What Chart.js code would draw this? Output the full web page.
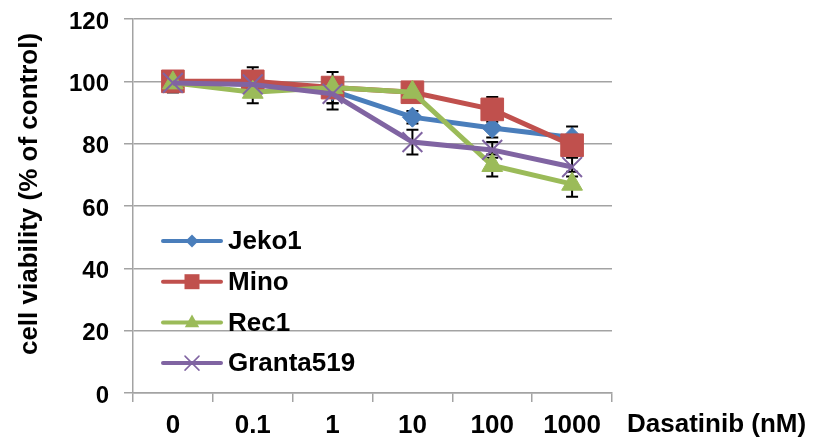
<!DOCTYPE html>
<html>
<head>
<meta charset="utf-8">
<script src="https://cdn.jsdelivr.net/npm/chart.js@4.4.0/dist/chart.umd.min.js"></script>
<style>
  html, body { margin: 0; padding: 0; background: #ffffff; }
  #wrap { width: 818px; height: 444px; }
</style>
</head>
<body>
<div id="wrap"><canvas id="c" width="818" height="444"></canvas></div>
<script>
// Dasatinib dose-response: cell viability (% of control) per cell line
const doses = ['0', '0.1', '1', '10', '100', '1000'];
const yTicks = [0, 20, 40, 60, 80, 100, 120];

const jeko1 = [100, 99, 97, 88.5, 85, 82];
const mino = [100, 100, 98, 96.5, 91, 79.5];
const rec1 = [99.5, 96.5, 98, 96.5, 73, 67];
const granta519 = [99.5, 99, 96, 80.5, 78, 72.5];

// standard deviations (error bars)
const jeko1Err = [3, 3, 4, 2, 3, 3.5];
const minoErr = [3, 4.5, 5, 2, 4, 3];
const rec1Err = [3, 3.5, 3, 2, 3.5, 4];
const granta519Err = [3, 3, 5, 4, 2.5, 3];

const FONT = '"Liberation Sans", Arial, sans-serif';
const GRID = '#a3a3a3';

// error bars drawn beneath the markers
const errorBars = {
  id: 'errorBars',
  beforeDatasetsDraw(chart) {
    const ctx = chart.ctx;
    const ys = chart.scales.y;
    ctx.save();
    ctx.strokeStyle = '#000000';
    ctx.lineWidth = 2;
    chart.data.datasets.forEach((ds, i) => {
      const meta = chart.getDatasetMeta(i);
      meta.data.forEach((pt, j) => {
        const v = ds.data[j], e = ds.errors[j];
        const x = pt.x;
        const yt = ys.getPixelForValue(v + e);
        const yb = ys.getPixelForValue(v - e);
        ctx.beginPath();
        ctx.moveTo(x, yt); ctx.lineTo(x, yb);
        ctx.moveTo(x - 6, yt); ctx.lineTo(x + 6, yt);
        ctx.moveTo(x - 6, yb); ctx.lineTo(x + 6, yb);
        ctx.stroke();
      });
    });
    ctx.restore();
  }
};

function drawMarker(ctx, style, x, y, s, color) {
  ctx.save();
  ctx.fillStyle = color;
  ctx.strokeStyle = color;
  ctx.beginPath();
  if (style === 'rectRot') {
    ctx.moveTo(x, y - s); ctx.lineTo(x + s, y); ctx.lineTo(x, y + s); ctx.lineTo(x - s, y);
    ctx.closePath(); ctx.fill();
  } else if (style === 'rect') {
    ctx.rect(x - s, y - s, 2 * s, 2 * s); ctx.fill();
  } else if (style === 'triangle') {
    ctx.moveTo(x, y - s); ctx.lineTo(x + s * 0.9, y + s * 0.6); ctx.lineTo(x - s * 0.9, y + s * 0.6);
    ctx.closePath(); ctx.fill();
  } else {
    ctx.lineWidth = 1.5;
    ctx.moveTo(x - s, y - s); ctx.lineTo(x + s, y + s);
    ctx.moveTo(x + s, y - s); ctx.lineTo(x - s, y + s);
    ctx.stroke();
  }
  ctx.restore();
}

// in-plot legend, axis titles
const annotations = {
  id: 'annotations',
  afterDraw(chart) {
    const ctx = chart.ctx;
    const legendTop = 241, legendStep = 40.7;
    chart.data.datasets.forEach((ds, i) => {
      const cy = legendTop + i * legendStep;
      ctx.save();
      ctx.strokeStyle = ds.borderColor;
      ctx.lineWidth = 4;
      ctx.lineCap = 'round';
      ctx.beginPath(); ctx.moveTo(163, cy); ctx.lineTo(221, cy); ctx.stroke();
      drawMarker(ctx, ds.pointStyle, 192, cy, ds.legendSize, ds.borderColor);
      ctx.fillStyle = '#000000';
      ctx.font = 'bold 26px ' + FONT;
      ctx.textBaseline = 'middle';
      ctx.textAlign = 'left';
      ctx.fillText(ds.label, 228, cy + 1);
      ctx.restore();
    });

    ctx.save();
    ctx.fillStyle = '#000000';
    ctx.font = 'bold 26px ' + FONT;
    ctx.textBaseline = 'middle';
    ctx.textAlign = 'left';
    ctx.fillText('Dasatinib (nM)', 627, 425);
    ctx.restore();

    ctx.save();
    ctx.fillStyle = '#000000';
    ctx.font = 'bold 26px ' + FONT;
    ctx.translate(37, 194);
    ctx.rotate(-Math.PI / 2);
    ctx.textAlign = 'center';
    ctx.textBaseline = 'alphabetic';
    ctx.fillText('cell viability (% of control)', 0, 0);
    ctx.restore();
  }
};

new Chart(document.getElementById('c'), {
  type: 'line',
  data: {
    labels: doses,
    datasets: [
      { label: 'Jeko1', data: jeko1, errors: jeko1Err, borderColor: '#4a7ebb', backgroundColor: '#4a7ebb',
        pointStyle: 'rectRot', pointRadius: 10, pointBorderWidth: 1, order: 4, legendSize: 6.5 },
      { label: 'Mino', data: mino, errors: minoErr, borderColor: '#c0504d', backgroundColor: '#c0504d',
        pointStyle: 'rect', pointRadius: 16, pointBorderWidth: 1, order: 3, legendSize: 7.5 },
      { label: 'Rec1', data: rec1, errors: rec1Err, borderColor: '#9bbb59', backgroundColor: '#9bbb59',
        pointStyle: 'triangle', pointRadius: 12, pointBorderWidth: 1, order: 2, legendSize: 8 },
      { label: 'Granta519', data: granta519, errors: granta519Err, borderColor: '#8064a2', backgroundColor: '#8064a2',
        pointStyle: 'crossRot', pointRadius: 14, pointBorderWidth: 2, order: 1, legendSize: 7 }
    ]
  },
  options: {
    responsive: false,
    animation: false,
    devicePixelRatio: 1,
    layout: { padding: { top: 19, right: 206, bottom: 0, left: 0 } },
    elements: { line: { borderWidth: 5, tension: 0 } },
    plugins: { legend: { display: false }, tooltip: { enabled: false } },
    scales: {
      x: {
        type: 'category',
        offset: true,
        afterFit(scale) { scale.height = 51; },
        border: { display: true, color: GRID, width: 1.5 },
        grid: { offset: true, drawOnChartArea: false, drawTicks: true, tickLength: 9, color: GRID, lineWidth: 1.5 },
        ticks: { color: '#000000', font: { family: FONT, size: 26, weight: 'bold' }, padding: 8, maxRotation: 0 }
      },
      y: {
        min: 0,
        max: 120,
        afterFit(scale) { scale.width = 133; scale.paddingTop = 0; scale.paddingBottom = 0; },
        afterBuildTicks(scale) { scale.ticks = yTicks.map(v => ({ value: v })); },
        border: { display: true, color: GRID, width: 1.5 },
        grid: { drawOnChartArea: true, drawTicks: true, tickLength: 9, color: GRID, lineWidth: 1.5 },
        ticks: { color: '#000000', font: { family: FONT, size: 24, weight: 'bold' }, padding: 15, labelOffset: 3 }
      }
    }
  },
  plugins: [errorBars, annotations]
});
</script>
</body>
</html>
